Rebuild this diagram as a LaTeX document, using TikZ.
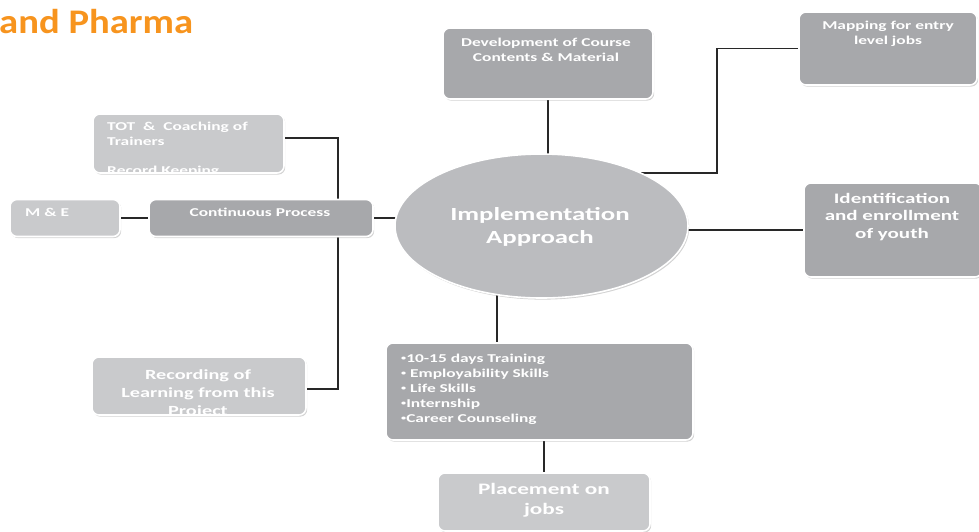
\documentclass[tikz,border=0pt]{standalone}
\usepackage{fontspec}
\setmainfont{Carlito}[FakeStretch=1.45]
\newfontfamily\titlefont{Carlito}[FakeStretch=1.12]
\usetikzlibrary{positioning,shapes.geometric,shadows,backgrounds}
\definecolor{boxdark}{RGB}{167,168,171}
\definecolor{boxlight}{RGB}{201,202,204}
\definecolor{ovalgray}{RGB}{187,188,191}
\definecolor{linkgray}{RGB}{40,40,40}
\definecolor{pharma}{RGB}{247,148,30}
\newcommand\bul{\raisebox{0.4ex}{\fontsize{7}{7}\selectfont\textbullet}}
\begin{document}
\begin{tikzpicture}[x=1pt,y=-1pt,
  box/.style={rectangle,rounded corners=7pt,draw=white,line width=1.6pt,inner sep=0pt,
    drop shadow={shadow xshift=1.2pt,shadow yshift=-1.6pt,opacity=0.35}},
  dbox/.style={box,fill=boxdark},
  lbox/.style={box,fill=boxlight},
  txt/.style={text=white,font=\bfseries\fontsize{12}{14.5}\selectfont,inner sep=0pt},
  link/.style={draw=linkgray,line width=1.8pt}]
\useasboundingbox (0,0) rectangle (979,531);

\node[anchor=base west,inner sep=0pt,text=pharma,font=\titlefont\bfseries\fontsize{34.5}{38}\selectfont] (H) at (-1,33) {and Pharma};

\node[ellipse,fill=ovalgray,draw=white,line width=1.6pt,minimum width=293,minimum height=144,
  drop shadow={shadow xshift=1.2pt,shadow yshift=-1.6pt,opacity=0.35}] (I) at (541.5,226) {};
\node[txt,align=center,font=\bfseries\fontsize{18.5}{23}\selectfont] (It) at (540,226.5) {Implementation\\Approach};

\node[dbox,minimum width=210,minimum height=71] (D) at (548,63.5) {};
\node[txt,align=center,anchor=north] (Dt) at (546,38) {Development of Course\\Contents \& Material};

\node[dbox,minimum width=178,minimum height=73] (M) at (888,48.5) {};
\node[txt,align=center,anchor=north] (Mt) at (888,21) {Mapping for entry\\level jobs};

\node[dbox,minimum width=178,minimum height=94] (Id) at (893,230) {};
\node[txt,align=center,anchor=north,font=\bfseries\fontsize{14.5}{17.5}\selectfont] (Idt) at (892,193) {Identification\\and enrollment\\of youth};

\node[lbox,minimum width=191,minimum height=59] (T) at (188.5,143.5) {};
\begin{scope}
  \clip[rounded corners=7pt] (T.south west) rectangle (T.north east);
  \node[txt,align=left,anchor=north west] (Tt) at (107,122) {TOT\ \ \&\ \ Coaching of\\Trainers\\[15pt]Record Keeping};
\end{scope}

\node[lbox,minimum width=110,minimum height=37] (ME) at (65,218) {};
\node[txt,anchor=north west] (MEt) at (25,208) {M \& E};

\node[dbox,minimum width=224,minimum height=37] (C) at (261,218) {};
\node[txt,anchor=north] (Ct) at (260,207.5) {Continuous Process};

\node[lbox,minimum width=214,minimum height=58] (R) at (199,386) {};
\begin{scope}
  \clip[rounded corners=7pt] (R.south west) rectangle (R.north east);
  \node[txt,align=center,anchor=north,font=\bfseries\fontsize{14}{18}\selectfont] (Rt) at (198,369) {Recording of\\Learning from this\\Project};
\end{scope}

\node[dbox,minimum width=307,minimum height=97] (B) at (539.5,391.5) {};
\node[txt,align=left,anchor=north west,font=\bfseries\fontsize{12}{15}\selectfont] (Bt) at (401,354) {\bul10-15 days Training\\\bul\ Employability Skills\\\bul\ Life Skills\\\bul Internship\\\bul Career Counseling};

\node[lbox,minimum width=212,minimum height=58] (P) at (544,502) {};
\node[txt,align=center,anchor=north,font=\bfseries\fontsize{16}{20}\selectfont] (Pt) at (544,483.5) {Placement on\\jobs};

\coordinate (mk) at (717,173);
\coordinate (tk) at (338,138);
\coordinate (rk) at (338,389);
\coordinate (bk) at (497,343);

\begin{scope}[on background layer]
  \draw[link] (D.south) -- (D.south |- I.center);
  \draw[link] (M.west) -| (mk) -- (mk -| I.center);
  \draw[link] (Id.west) -- (Id.west -| I.center);
  \draw[link] (C.east) -- (C.east -| I.center);
  \draw[link] (ME.east) -- (C.west);
  \draw[link] (T.east |- tk) -| (rk) -- (R.east |- rk);
  \draw[link] (bk) -- (bk |- I.center);
  \draw[link] (P.north) -- (P.north |- B.center);
\end{scope}
\end{tikzpicture}
\end{document}
